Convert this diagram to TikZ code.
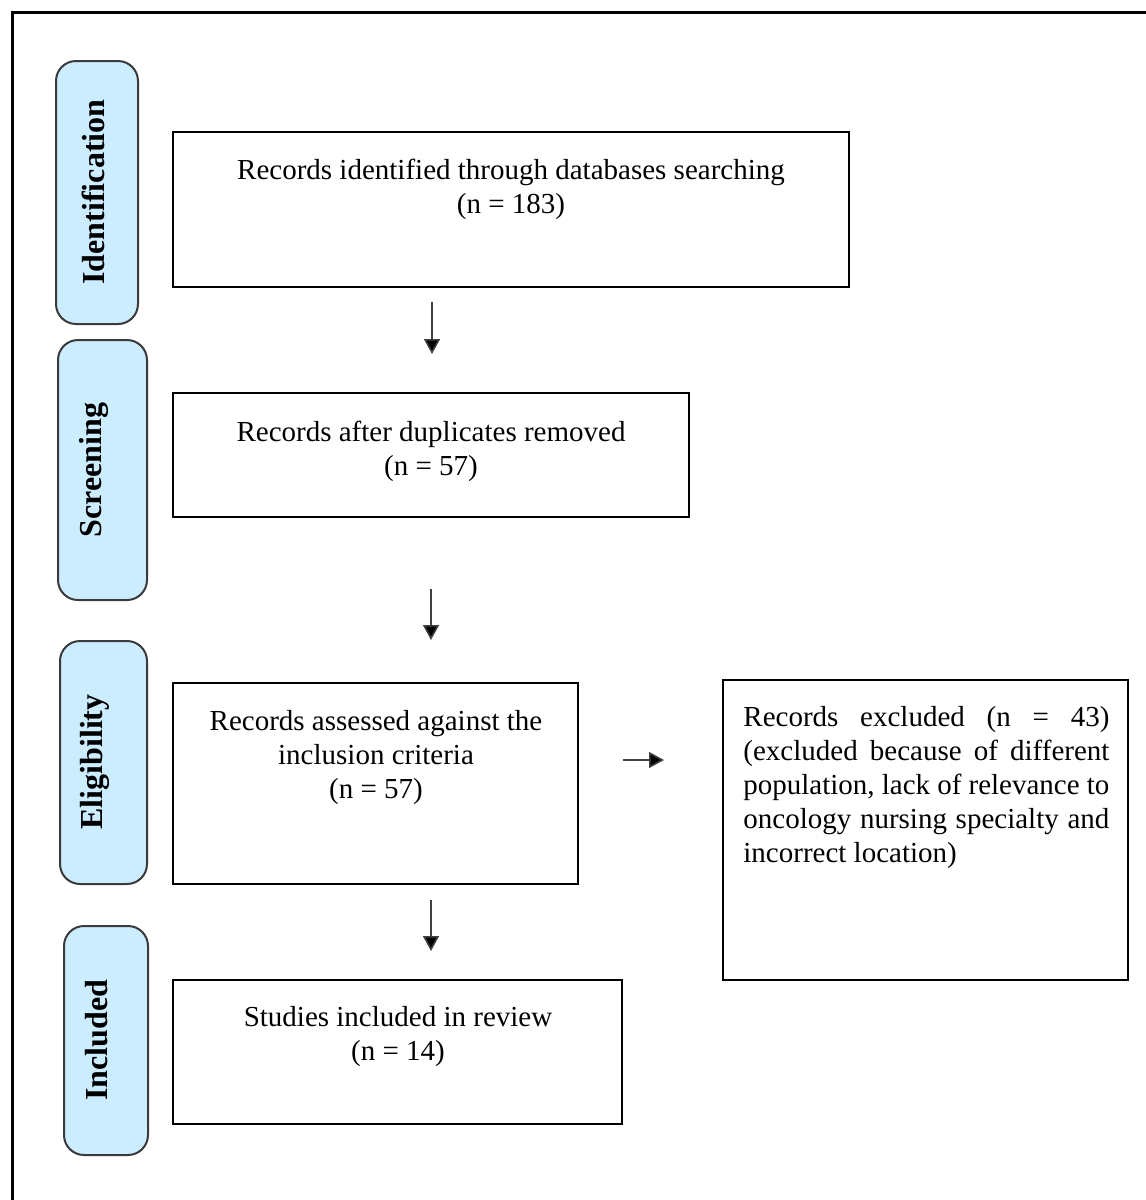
\documentclass[tikz,border=0pt]{standalone}
\usepackage{fontspec}
\setmainfont{Liberation Serif}
\usetikzlibrary{arrows.meta}
\definecolor{phasefill}{HTML}{CCECFF}
\definecolor{phaseline}{HTML}{3A3A3A}
\begin{document}
\begin{tikzpicture}[x=0.5pt,y=-0.5pt,
  frameline/.style={line width=1.5pt,black},
  phasebox/.style={draw=phaseline,fill=phasefill,line width=1pt,rounded corners=10pt},
  phasetext/.style={rotate=90,font=\fontsize{16}{19}\selectfont\bfseries,inner sep=0pt},
  flowbox/.style={draw=black,line width=1.2pt},
  flowtext/.style={anchor=north,inner sep=0pt,align=center,font=\fontsize{14.5}{17}\selectfont},
  flowarrow/.style={draw=black!75,line width=0.8pt,-{Triangle[width=8pt,length=7.5pt,fill=black]}}
]
\useasboundingbox (0,0) rectangle (1146,1200);
% page frame, open at the right and bottom
\draw[frameline] (12,1200) -- (12,12) -- (1146,12);

% phase labels on the left
\draw[phasebox] (56,61) rectangle (138,324);
\node[phasetext] (pid) at (93,192) {Identification};
\draw[phasebox] (58,340) rectangle (147,600);
\node[phasetext] (psc) at (94,470) {Screening};
\draw[phasebox] (60,641) rectangle (147,884);
\node[phasetext] (pel) at (95,762) {Eligibility};
\draw[phasebox] (64,926) rectangle (148,1155);
\node[phasetext] (pin) at (97,1040) {Included};

% flow boxes
\draw[flowbox] (173,132) rectangle (849,287);
\node[flowtext] (t1) at (511,159) {Records identified through databases searching\\(n = 183)};

\draw[flowbox] (173,393) rectangle (689,517);
\node[flowtext] (t2) at (431,421) {Records after duplicates removed\\(n = 57)};

\draw[flowbox] (173,683) rectangle (578,884);
\node[flowtext] (t3) at (376,710) {Records assessed against the\\inclusion criteria\\(n = 57)};

\draw[flowbox] (723,680) rectangle (1128,980);
\node[anchor=north west,inner sep=0pt,font=\fontsize{14.5}{17}\selectfont] (t4) at (743,706)
  {\parbox[t]{183pt}{\fontsize{14.5}{17}\selectfont
   Records excluded (n = 43)\linebreak
   (excluded because of different\linebreak
   population, lack of relevance to\linebreak
   oncology nursing specialty and\linebreak
   incorrect location)}};

\draw[flowbox] (173,980) rectangle (622,1124);
\node[flowtext] (t5) at (398,1006) {Studies included in review\\(n = 14)};

% arrows between stages
\coordinate (a1s) at (432,302); \coordinate (a1e) at (432,354);
\coordinate (a2s) at (431,589); \coordinate (a2e) at (431,640);
\coordinate (a3s) at (431,900); \coordinate (a3e) at (431,951);
\coordinate (a4s) at (623,760); \coordinate (a4e) at (664,760);
\draw[flowarrow] (a1s) -- (a1e);
\draw[flowarrow] (a2s) -- (a2e);
\draw[flowarrow] (a3s) -- (a3e);
\draw[flowarrow] (a4s) -- (a4e);
\end{tikzpicture}
\end{document}
